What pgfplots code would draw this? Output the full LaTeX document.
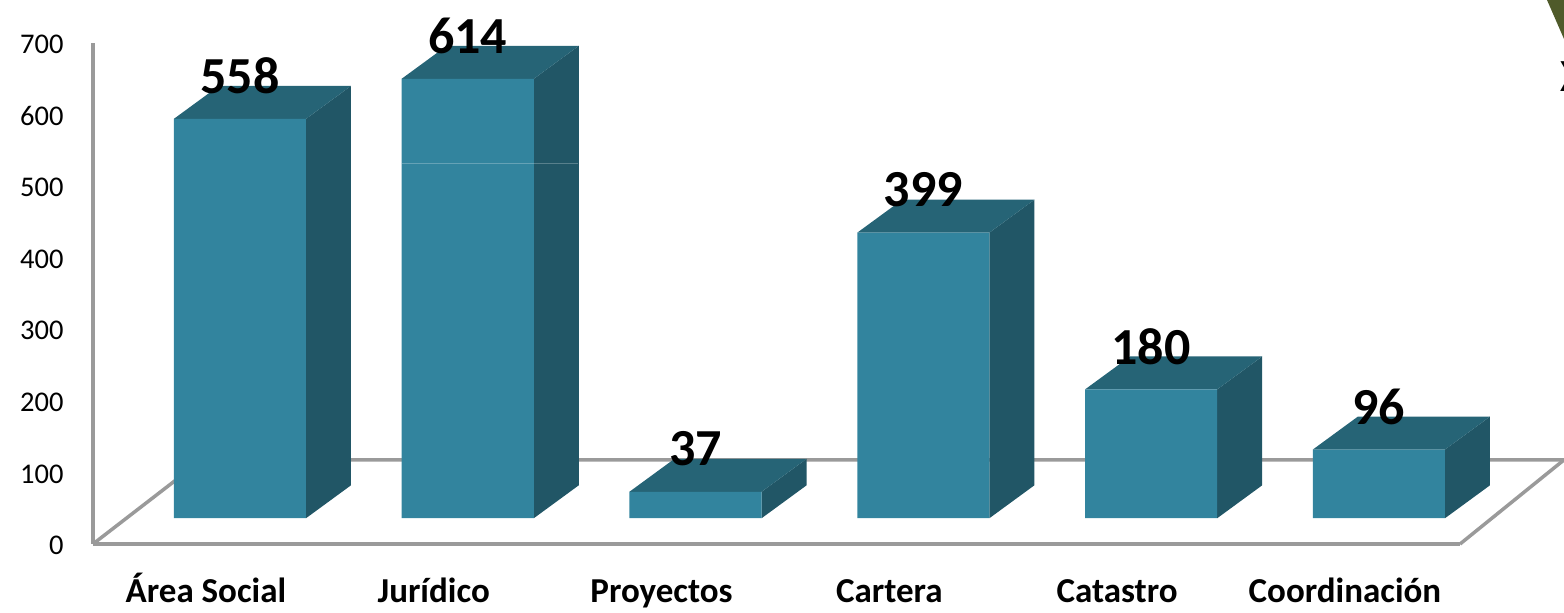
\documentclass[border=0pt]{standalone}
\usepackage{fontspec}
\setmainfont{Carlito}
\usepackage{pgfplots}
\pgfplotsset{compat=1.18}
\definecolor{barfront}{RGB}{50,132,158}
\definecolor{barside}{RGB}{33,86,102}
\definecolor{bartop}{RGB}{38,100,118}
\definecolor{floorgrey}{RGB}{154,154,154}
\definecolor{leaf}{RGB}{79,90,42}
\pgfplotsset{
  common/.style={
    scale only axis, width=1367pt, height=501pt,
    xmin=-0.645, xmax=5.356, ymin=0, ymax=700,
    clip=false,
  },
  side/.style={fill=barside, draw=none, mark=none},
  top/.style={fill=bartop, draw=none, mark=none},
}
\begin{document}
\begin{tikzpicture}
  \begin{axis}[
    common,
    axis x line=bottom, axis y line=left,
    axis line style={-, draw=floorgrey, line width=3.5pt},
    major tick length=0pt,
    xtick={0,1,2,3,4,5},
    xticklabels={Área Social,Jurídico,Proyectos,Cartera,Catastro,Coordinación},
    ytick={0,100,...,700},
    /pgf/number format/assume math mode=true,
    yticklabel style={font=\fontsize{28.5}{30}\selectfont, xshift=-26pt, yshift=-1.5pt},
    xticklabel style={font=\fontsize{35}{40}\bfseries, anchor=base, xshift=-34pt, yshift=-58.5pt},
  ]
    % floor
    \addplot[floorgrey, line width=3.5pt, mark=none] coordinates {(-0.645,0) (-0.167,117.4) (5.812,117.4)};
    \addplot[floorgrey, line width=3.5pt, mark=none] coordinates {(5.356,0) (5.812,117.4)};
    % sides and tops, front top = value + 36, depth = 46
    \addplot[side] coordinates {(0.29,36) (0.4875,82) (0.4875,640) (0.29,594)} -- cycle;
    \addplot[top]  coordinates {(-0.29,594) (-0.0925,640) (0.4875,640) (0.29,594)} -- cycle;
    \addplot[side] coordinates {(1.29,36) (1.4875,82) (1.4875,696) (1.29,650)} -- cycle;
    \addplot[top]  coordinates {(0.71,650) (0.9075,696) (1.4875,696) (1.29,650)} -- cycle;
    \addplot[side] coordinates {(2.29,36) (2.4875,82) (2.4875,119) (2.29,73)} -- cycle;
    \addplot[top]  coordinates {(1.71,73) (1.9075,119) (2.4875,119) (2.29,73)} -- cycle;
    \addplot[side] coordinates {(3.29,36) (3.4875,82) (3.4875,481) (3.29,435)} -- cycle;
    \addplot[top]  coordinates {(2.71,435) (2.9075,481) (3.4875,481) (3.29,435)} -- cycle;
    \addplot[side] coordinates {(4.29,36) (4.4875,82) (4.4875,262) (4.29,216)} -- cycle;
    \addplot[top]  coordinates {(3.71,216) (3.9075,262) (4.4875,262) (4.29,216)} -- cycle;
    \addplot[side] coordinates {(5.29,36) (5.4875,82) (5.4875,178) (5.29,132)} -- cycle;
    \addplot[top]  coordinates {(4.71,132) (4.9075,178) (5.4875,178) (5.29,132)} -- cycle;
  \end{axis}
  \begin{axis}[
    common,
    hide axis,
    ybar stacked,
    bar width=0.58,
  ]
    \addplot[draw=none, fill=none] coordinates {(0,36) (1,36) (2,36) (3,36) (4,36) (5,36)};
    \addplot[fill=barfront, draw=none] coordinates {(0,558) (1,614) (2,37) (3,399) (4,180) (5,96)};
  \end{axis}
  \begin{axis}[common, hide axis]
    % value labels, stacked bars would put them mid-bar
    \addplot[
      draw=none, mark=none,
      point meta=explicit symbolic,
      nodes near coords,
      every node near coord/.append style={anchor=center, yshift=43pt, text=black, font=\fontsize{52}{56}\bfseries},
    ] coordinates {(0,594) [558] (1,650) [614] (2,73) [37] (3,435) [399] (4,216) [180] (5,132) [96]};
  \end{axis}
  % seam in the second bar
  \draw[white, opacity=0.25, line width=1pt] (309pt,380.5pt) -- (485pt,380.5pt);
  % picture fragments at the right edge
  \fill[leaf] (1454pt,544pt) -- (1471pt,544pt) -- (1471pt,505pt) -- cycle;
  \node[anchor=west, inner sep=0pt, font=\fontsize{46}{50}\bfseries] at (1467pt,467pt) {X};
  \pgfresetboundingbox
  \path[use as bounding box] (-93pt,-69pt) rectangle (1471pt,544pt);
\end{tikzpicture}
\end{document}
